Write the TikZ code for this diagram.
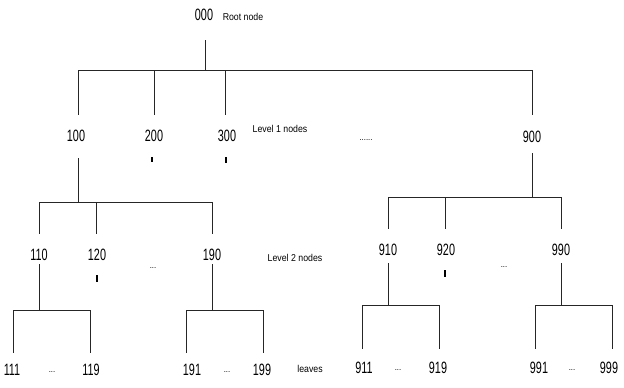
\documentclass[tikz,border=0pt]{standalone}
\usepackage{fontspec}
\setmainfont{Liberation Sans}
\newfontfamily\numfont[FakeStretch=0.66]{Liberation Sans}
\newfontfamily\tagfont[FakeStretch=0.88]{Liberation Sans}
\tikzset{
  num/.style={font=\numfont\fontsize{14}{16}\selectfont, inner sep=0pt},
  tag/.style={font=\tagfont\fontsize{8.5}{10}\selectfont, inner sep=0pt},
  dots/.style={font=\tagfont\fontsize{7.5}{9}\selectfont, inner sep=0pt},
  link/.style={draw=black!85, line width=0.6pt},
  stub/.style={draw=black, line width=1pt},
}
\begin{document}
\begin{tikzpicture}[x=0.03cm, y=-0.03cm]
% one unit is one pixel of the page, y runs downwards
\useasboundingbox (0,0) rectangle (624,387);

% Root
\node[num] (n000) at (204,15) {000};
\node[tag] (troot) at (243,17) {Root node};

% Level 1
\node[num] (n100) at (76,136) {100};
\node[num] (n200) at (154,136) {200};
\node[num] (n300) at (227,136) {300};
\node[num] (n900) at (532,137) {900};
\node[tag] (tlevel1) at (280,129) {Level 1 nodes};
\node[dots] (d1) at (366,140) {......};

% Level 2
\node[num] (n110) at (39,255) {110};
\node[num] (n120) at (97,255) {120};
\node[num] (n190) at (212,255) {190};
\node[dots] (d2) at (153,268) {...};
\node[num] (n910) at (388,250) {910};
\node[num] (n920) at (446,250) {920};
\node[num] (n990) at (561,250) {990};
\node[dots] (d3) at (504,267) {...};
\node[tag] (tlevel2) at (295,258) {Level 2 nodes};

% Leaves
\node[num] (n111) at (12,370) {111};
\node[dots] (d4) at (52,372) {...};
\node[num] (n119) at (91,370) {119};
\node[num] (n191) at (192,370) {191};
\node[dots] (d5) at (227,372) {...};
\node[num] (n199) at (262,370) {199};
\node[tag] (tleaves) at (310,369) {leaves};
\node[num] (n911) at (364,368) {911};
\node[dots] (d6) at (398,370) {...};
\node[num] (n919) at (438,368) {919};
\node[num] (n991) at (539,368) {991};
\node[dots] (d7) at (572,370) {...};
\node[num] (n999) at (609,368) {999};

% Ends of the links
\coordinate (o000) at (205,40);
\coordinate (i100) at (78,115);
\coordinate (i200) at (154,115);
\coordinate (i300) at (225,115);
\coordinate (i900) at (532,115);
\coordinate (o100) at (78,158);
\coordinate (i110) at (39,234);
\coordinate (i120) at (96,234);
\coordinate (i190) at (212,234);
\coordinate (o900) at (532,153);
\coordinate (i910) at (388,229);
\coordinate (i920) at (445,229);
\coordinate (i990) at (561,229);
\coordinate (o110) at (39,264);
\coordinate (i111) at (13,353);
\coordinate (i119) at (90,353);
\coordinate (o190) at (212,264);
\coordinate (i191) at (186,353);
\coordinate (i199) at (263,353);
\coordinate (o910) at (388,263);
\coordinate (i911) at (362,349);
\coordinate (i919) at (439,349);
\coordinate (o990) at (561,263);
\coordinate (i991) at (535,349);
\coordinate (i999) at (612,349);

% Links
\draw[link] (o000) -- ++(0,30) -| (i100);
\draw[link] (o000) -- ++(0,30) -| (i200);
\draw[link] (o000) -- ++(0,30) -| (i300);
\draw[link] (o000) -- ++(0,30) -| (i900);
\draw[link] (o100) -- ++(0,44) -| (i110);
\draw[link] (o100) -- ++(0,44) -| (i120);
\draw[link] (o100) -- ++(0,44) -| (i190);
\draw[link] (o900) -- ++(0,44) -| (i910);
\draw[link] (o900) -- ++(0,44) -| (i920);
\draw[link] (o900) -- ++(0,44) -| (i990);
\draw[link] (o110) -- ++(0,46) -| (i111);
\draw[link] (o110) -- ++(0,46) -| (i119);
\draw[link] (o190) -- ++(0,46) -| (i191);
\draw[link] (o190) -- ++(0,46) -| (i199);
\draw[link] (o910) -- ++(0,42) -| (i911);
\draw[link] (o910) -- ++(0,42) -| (i919);
\draw[link] (o990) -- ++(0,42) -| (i991);
\draw[link] (o990) -- ++(0,42) -| (i999);

% Short stubs under some nodes
\draw[stub] (152,157) -- (152,162);
\draw[stub] (226,157) -- (226,163);
\draw[stub] (97,275) -- (97,282);
\draw[stub] (445,270) -- (445,277);
\end{tikzpicture}
\end{document}
